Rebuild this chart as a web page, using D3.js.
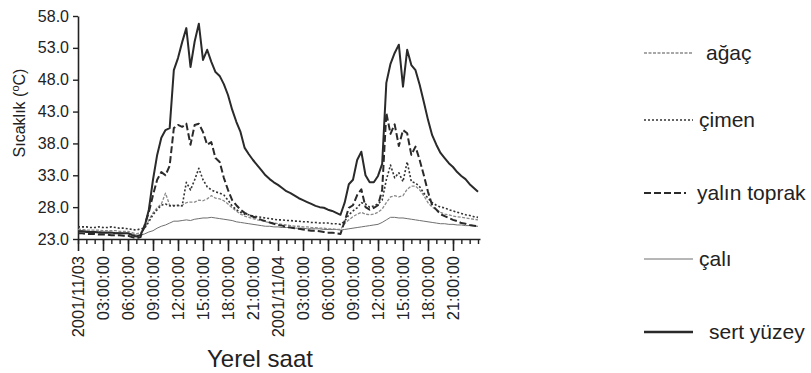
<!DOCTYPE html>
<html>
<head>
<meta charset="utf-8">
<script src="https://cdn.jsdelivr.net/npm/d3@7"></script>
<style>
  body { margin: 0; background: #fff; }
  svg { display: block; font-family: 'Liberation Sans', Arial, sans-serif; }
</style>
</head>
<body>
<svg width="811" height="373"></svg>
<script>
// Half-hourly readings, 2001/11/03 00:00 to 2001/11/05 00:00
const agac = [
  24.5, 24.5, 24.4, 24.4, 24.4, 24.4, 24.3, 24.3, 24.3, 24.3, 24.2, 24.2, 24.2,
  24.0, 23.8, 24.0,
  24.7, 26.0, 27.1, 27.9, 28.5, 30.2, 28.3,
  28.3, 28.2, 28.3, 28.7, 28.8, 28.8, 29.1,
  29.0, 29.3, 29.8, 29.4, 29.3, 29.0, 28.5, 27.9, 27.4, 26.9,
  26.6, 26.4, 26.2, 26.0, 25.9, 25.7, 25.6, 25.5, 25.4, 25.3,
  25.2, 25.1, 25.0, 25.0, 24.9, 24.9, 24.8, 24.8, 24.7, 24.7,
  24.6, 24.6, 24.5, 24.5,
  25.4, 26.0, 26.5, 26.9, 27.2, 26.9, 26.8, 26.9, 27.2, 27.7,
  28.7, 29.6, 29.8, 29.6, 29.8, 30.8, 31.3, 31.3, 30.7, 29.8,
  28.7, 28.0, 27.6, 27.2, 26.9, 26.8, 26.6, 26.5, 26.4, 26.3,
  26.2, 26.1, 26.0,
];
const cimen = [
  24.9, 24.9, 24.9, 24.8, 24.8, 24.9, 24.8, 24.8, 24.9, 24.8, 24.7, 24.7, 24.6,
  24.5, 24.4, 24.6,
  24.7, 25.7, 26.8, 27.6, 28.3, 28.5, 28.2,
  28.2, 28.3, 28.2, 31.9, 30.7, 32.3, 34.1,
  32.3, 31.2, 30.7, 30.4, 30.2, 29.9, 29.1, 28.2, 27.6, 27.2,
  26.9, 26.8, 26.6, 26.5, 26.4, 26.3, 26.2, 26.1, 26.0, 26.0,
  25.9, 25.9, 25.8, 25.8, 25.7, 25.7, 25.6, 25.6, 25.5, 25.5,
  25.5, 25.4, 25.4, 25.3,
  25.8, 26.8, 27.4, 27.9, 28.7, 28.5, 28.0, 28.2, 28.5, 29.1,
  32.3, 34.6, 32.6, 33.4, 32.0, 35.1, 32.0, 31.8, 31.2, 30.2,
  29.4, 28.7, 28.3, 28.0, 27.9, 27.6, 27.4, 27.2, 27.0, 26.8,
  26.7, 26.5, 26.4,
];
const yalinToprak = [
  23.9, 23.9, 23.8, 23.8, 23.8, 23.7, 23.7, 23.7, 23.6, 23.6, 23.6, 23.5, 23.5,
  23.3, 23.1, 23.3,
  25.2, 27.2, 29.9, 32.3, 33.5, 33.0, 34.5,
  40.4, 40.9, 40.6, 41.1, 37.8, 40.9, 41.1,
  39.8, 37.8, 38.2, 35.7, 35.1, 32.6, 30.7, 29.1, 28.3, 27.6,
  27.1, 26.8, 26.5, 26.3, 26.0, 25.8, 25.6, 25.4, 25.2, 25.1,
  24.9, 24.8, 24.7, 24.6, 24.5, 24.4, 24.3, 24.3, 24.2, 24.1,
  24.0, 24.0, 23.9, 23.8,
  25.8, 27.9, 28.3, 29.9, 30.8, 28.0, 27.6, 27.9, 28.3, 30.7,
  42.8, 39.5, 41.0, 37.6, 40.1, 39.6, 36.2, 37.5, 35.4, 33.0,
  30.4, 28.3, 27.6, 26.9, 26.6, 26.3, 26.0, 25.8, 25.5, 25.4,
  25.2, 25.1, 25.0,
];
const cali = [
  24.3, 24.3, 24.3, 24.2, 24.2, 24.2, 24.1, 24.1, 24.1, 24.0, 24.0, 23.9, 23.9,
  23.8, 23.6, 23.6,
  23.8, 24.1, 24.3, 24.7, 25.0, 25.2, 25.5,
  25.8, 25.8, 25.9, 26.0, 25.9, 26.1, 26.2,
  26.3, 26.3, 26.4, 26.3, 26.2, 26.1, 26.0, 25.9, 25.7, 25.6,
  25.5, 25.4, 25.3, 25.2, 25.1, 25.0, 25.0, 24.9, 24.9, 24.8,
  24.8, 24.8, 24.7, 24.7, 24.7, 24.6, 24.6, 24.6, 24.6, 24.5,
  24.5, 24.5, 24.5, 24.4,
  24.5, 24.6, 24.7, 24.8, 24.9, 25.0, 25.1, 25.2, 25.3, 25.6,
  26.0, 26.4, 26.4, 26.3, 26.3, 26.2, 26.1, 26.0, 25.9, 25.8,
  25.7, 25.6, 25.5, 25.4, 25.4, 25.3, 25.3, 25.2, 25.2, 25.1,
  25.1, 25.0, 25.0,
];
const sertYuzey = [
  24.2, 24.2, 24.1, 24.1, 24.1, 24.0, 24.0, 24.0, 24.0, 23.9, 23.9, 23.9, 23.9,
  23.6, 23.4, 23.6,
  25.0, 27.6, 32.3, 36.2, 38.9, 40.1, 40.4,
  49.5, 51.4, 53.9, 56.1, 50.0, 54.0, 56.8,
  51.1, 52.7, 50.8, 49.2, 48.6, 47.3, 45.6, 43.3, 41.4, 39.8,
  37.3, 36.3, 35.4, 34.6, 33.8, 33.0, 32.4, 31.9, 31.5, 31.0,
  30.5, 30.2, 29.8, 29.4, 29.1, 28.8, 28.5, 28.2, 28.0, 27.9,
  27.6, 27.4, 27.1, 26.8,
  28.7, 31.6, 32.3, 35.4, 36.7, 33.0, 31.9, 31.9, 32.9, 34.8,
  47.5, 50.5, 52.2, 53.5, 46.9, 52.7, 50.3, 49.5, 47.2, 44.5,
  41.7, 39.3, 37.8, 36.5, 35.7, 34.9, 34.3, 33.5, 32.9, 32.4,
  31.6, 31.0, 30.4,
];

// Tick values and labels
const yTicks = [23, 28, 33, 38, 43, 48, 53, 58];
const xTickHours = [0, 3, 6, 9, 12, 15, 18, 21, 24, 27, 30, 33, 36, 39, 42, 45];
const xTickLabels = [
  '2001/11/03', '03:00:00', '06:00:00', '09:00:00', '12:00:00', '15:00:00',
  '18:00:00', '21:00:00', '2001/11/04', '03:00:00', '06:00:00', '09:00:00',
  '12:00:00', '15:00:00', '18:00:00', '21:00:00',
];

const hours = d3.range(agac.length).map((i) => i / 2);

const series = [
  {name: 'çalı', values: cali, stroke: '#6f6f6f', width: 1, dash: null},
  {name: 'ağaç', values: agac, stroke: '#8a8a8a', width: 1.3, dash: '3,1.5'},
  {name: 'çimen', values: cimen, stroke: '#333', width: 1.6, dash: '2,2'},
  {name: 'yalın toprak', values: yalinToprak, stroke: '#2a2a2a', width: 2, dash: '7,3'},
  {name: 'sert yüzey', values: sertYuzey, stroke: '#2a2a2a', width: 2, dash: null},
];

const svg = d3.select('svg');
const margin = {top: 16, left: 78, bottom: 239, right: 480};

const x = d3.scaleLinear().domain([0, 48.24]).range([margin.left, margin.right]);
const y = d3.scaleLinear().domain([23, 58]).range([margin.bottom, margin.top]);

// Y axis
const yAxis = svg.append('g')
    .attr('transform', `translate(${margin.left},0)`)
    .call(d3.axisLeft(y).tickValues(yTicks).tickFormat(d3.format('.1f'))
        .tickSize(5).tickSizeOuter(0).tickPadding(4));
yAxis.select('.domain').attr('stroke', '#222').attr('stroke-width', 1.6);
yAxis.selectAll('.tick line').attr('stroke', '#222').attr('stroke-width', 1.4);
yAxis.selectAll('.tick text')
    .attr('font-size', 16).attr('fill', '#222')
    .attr('font-family', "'Liberation Sans', Arial, sans-serif");

// Minor hourly ticks on the x axis
const xMinor = svg.append('g')
    .attr('transform', `translate(0,${margin.bottom})`)
    .call(d3.axisBottom(x).tickValues(d3.range(0, 49, 1))
        .tickFormat('').tickSize(5).tickSizeOuter(0));
xMinor.select('.domain').attr('stroke', '#222').attr('stroke-width', 1.6);
xMinor.selectAll('.tick line').attr('stroke', '#222').attr('stroke-width', 1.4);

// Major 3-hourly ticks with rotated labels
const xMajor = svg.append('g')
    .attr('transform', `translate(0,${margin.bottom})`)
    .call(d3.axisBottom(x).tickValues(xTickHours)
        .tickFormat((d, i) => xTickLabels[i]).tickSize(12).tickSizeOuter(0));
xMajor.select('.domain').remove();
xMajor.selectAll('.tick line').attr('stroke', '#222').attr('stroke-width', 1.6);
xMajor.selectAll('.tick text')
    .attr('font-size', 16.5).attr('fill', '#222')
    .attr('font-family', "'Liberation Sans', Arial, sans-serif")
    .attr('transform', 'rotate(-90)')
    .attr('text-anchor', 'end')
    .attr('x', -17)
    .attr('y', 0)
    .attr('dy', '0.36em');

// Lines
const line = d3.line()
    .x((d, i) => x(hours[i]))
    .y((d) => y(d));

svg.append('g')
    .attr('fill', 'none')
    .attr('stroke-linejoin', 'round')
    .selectAll('path')
    .data(series)
    .join('path')
    .attr('stroke', (d) => d.stroke)
    .attr('stroke-width', (d) => d.width)
    .attr('stroke-dasharray', (d) => d.dash)
    .attr('d', (d) => line(d.values));

// Axis titles
svg.append('text')
    .attr('transform', 'translate(25,113) rotate(-90)')
    .attr('text-anchor', 'middle')
    .attr('font-size', 16)
    .attr('fill', '#222')
    .html('Sıcaklık (<tspan font-size="11" dy="-6">o</tspan><tspan dy="6">C)</tspan>');

svg.append('text')
    .attr('x', 260)
    .attr('y', 367)
    .attr('text-anchor', 'middle')
    .attr('font-size', 24)
    .attr('fill', '#222')
    .text('Yerel saat');

// Legend, top to bottom
const legendOrder = ['ağaç', 'çimen', 'yalın toprak', 'çalı', 'sert yüzey'];
const legendY = [53, 120, 193, 259, 332];
const legend = svg.append('g')
    .selectAll('g')
    .data(legendOrder.map((n) => series.find((s) => s.name === n)))
    .join('g')
    .attr('transform', (d, i) => `translate(0,${legendY[i]})`);

legend.append('line')
    .attr('x1', 644)
    .attr('x2', (d) => d.name === 'yalın toprak' ? 686 : 693)
    .attr('stroke', (d) => d.stroke)
    .attr('stroke-width', (d) => d.name === 'sert yüzey' ? 2.6 : d.width)
    .attr('stroke-dasharray', (d) => d.dash);

legend.append('text')
    .attr('x', (d) => d.name === 'sert yüzey' ? 709 :
        d.name === 'ağaç' ? 706 : d.name === 'yalın toprak' ? 697 : 699)
    .attr('dy', 7)
    .attr('font-size', 21)
    .attr('fill', '#222')
    .text((d) => d.name);
</script>
</body>
</html>
